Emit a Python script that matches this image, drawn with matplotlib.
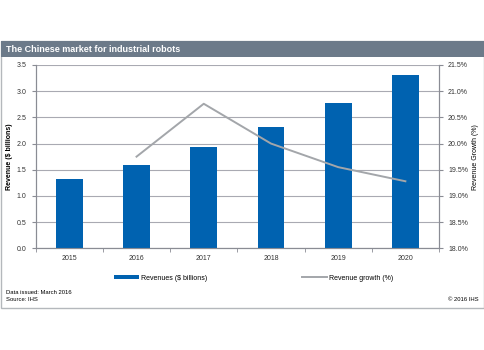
import matplotlib
import matplotlib.pyplot as plt
from matplotlib.patches import Rectangle

plt.rcParams['font.family'] = ['Liberation Sans', 'DejaVu Sans']

years = ['2015', '2016', '2017', '2018', '2019', '2020']
revenues = [1.33, 1.59, 1.93, 2.31, 2.77, 3.30]
growth_years = ['2016', '2017', '2018', '2019', '2020']
growth = [19.75, 20.76, 20.0, 19.55, 19.28]

blue = '#0062b0'
grey_line = '#a3a6aa'
grid_col = '#a9aab2'
axis_col = '#8a8c94'

fig = plt.figure(figsize=(4.85, 3.5), dpi=100)

# outer frame and title bar
fig.patches.append(Rectangle((1 / 485, 1 - 308 / 350), 483 / 485, (308 - 41) / 350,
                             transform=fig.transFigure, fill=False,
                             edgecolor='#b4b8bc', linewidth=1.0))
fig.patches.append(Rectangle((1 / 485, 1 - 57 / 350), 483 / 485, 16 / 350,
                             transform=fig.transFigure, facecolor='#6c7a89',
                             edgecolor='none'))
fig.text(6 / 485, 1 - 49 / 350, 'The Chinese market for industrial robots',
         color='white', fontsize=6.5, fontweight='bold', va='center', ha='left')

ax = fig.add_axes([35.7 / 485, 1 - 248.3 / 350, (439 - 35.7) / 485, (248.3 - 65) / 350])
x = range(len(years))
bars = ax.bar(x, revenues, width=0.4, color=blue, zorder=3,
              label='Revenues ($ billions)')
ax.set_xlim(-0.5, len(years) - 0.5)
ax.set_ylim(0, 3.5)
ax.set_yticks([0, 0.5, 1.0, 1.5, 2.0, 2.5, 3.0, 3.5])
ax.set_yticklabels([f'{v:.1f}' for v in ax.get_yticks()])
ax.set_xticks(list(x))
ax.set_xticklabels(years)
ax.set_xticks([i + 0.5 for i in range(-1, len(years))], minor=True)
ax.tick_params(axis='x', which='major', length=0, labelsize=5, pad=5, colors='#333333')
ax.tick_params(axis='x', which='minor', length=3, direction='out', color=axis_col)
ax.tick_params(axis='y', length=3, labelsize=5, colors='#333333', color=axis_col)
ax.yaxis.grid(True, color=grid_col, linewidth=0.8, zorder=0)
for s in ax.spines.values():
    s.set_color(axis_col)
    s.set_linewidth(0.8)
ax.spines['top'].set_visible(False)

ax2 = ax.twinx()
gx = [years.index(y) for y in growth_years]
ax2.plot(gx, growth, color=grey_line, linewidth=1.4, zorder=4,
         label='Revenue growth (%)')
ax2.set_ylim(18.0, 21.5)
ax2.set_yticks([18.0, 18.5, 19.0, 19.5, 20.0, 20.5, 21.0, 21.5])
ax2.set_yticklabels([f'{v:.1f}%' for v in ax2.get_yticks()])
ax2.tick_params(axis='y', length=3, labelsize=5, colors='#333333', color=axis_col)
for s in ax2.spines.values():
    s.set_color(axis_col)
    s.set_linewidth(0.8)
ax2.spines['top'].set_visible(False)

# axis titles placed directly so they stay inside the frame
fig.text(10 / 485, 1 - 157 / 350, 'Revenue ($ billions)', fontsize=5, fontweight='bold',
         rotation=90, ha='center', va='center')
fig.text(476 / 485, 1 - 157 / 350, 'Revenue Growth (%)', fontsize=5,
         rotation=90, ha='center', va='center')

# legend
fig.legend(handles=[bars], loc='center left', bbox_to_anchor=(108 / 485, 1 - 278 / 350),
           frameon=False, fontsize=5, handlelength=3.5, handleheight=0.4, handletextpad=0.3)
fig.legend(handles=ax2.get_lines(), loc='center left',
           bbox_to_anchor=(296 / 485, 1 - 278 / 350), frameon=False, fontsize=5,
           handlelength=3.5, handletextpad=0.3)

fig.text(6 / 485, 1 - 293 / 350, 'Data issued: March 2016', fontsize=4.2, va='center')
fig.text(6 / 485, 1 - 299.5 / 350, 'Source: IHS', fontsize=4.2, va='center')
fig.text(479 / 485, 1 - 299.5 / 350, '© 2016 IHS', fontsize=4.2, va='center', ha='right')

fig.savefig('out.png', dpi=100)
